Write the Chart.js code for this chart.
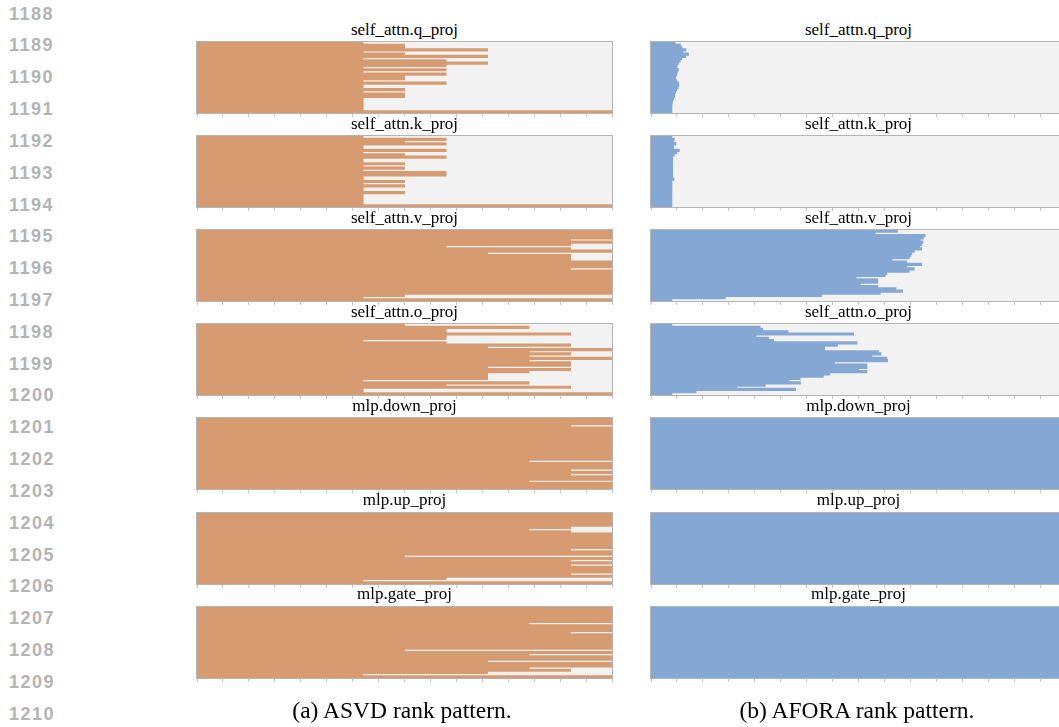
<!DOCTYPE html>
<html>
<head>
<meta charset="utf-8">
<script src="https://cdn.jsdelivr.net/npm/chart.js@4.4.1/dist/chart.umd.min.js"></script>
<style>
  html, body { margin: 0; padding: 0; background: #fff; overflow: hidden; }
  body { width: 1059px; height: 727px; position: relative; }
  .lineno { position: absolute; left: 9px; font: bold 18px "Liberation Sans", Arial, sans-serif; color: #b3b3b3; letter-spacing: 1.5px; line-height: 20px; }
  .ptitle { position: absolute; width: 415px; text-align: center; font: 17px "Liberation Serif", "Times New Roman", serif; line-height: 17px; color: #000; white-space: nowrap; }
  .caption { position: absolute; width: 400px; text-align: center; font: 23.5px "Liberation Serif", "Times New Roman", serif; line-height: 23px; color: #000; white-space: nowrap; }
  canvas { position: absolute; }
</style>
</head>
<body>
<script>
// layers 0..31, top to bottom
const layers = ["0","1","2","3","4","5","6","7","8","9","10","11","12","13","14","15",
                "16","17","18","19","20","21","22","23","24","25","26","27","28","29","30","31"];
const modules = ["self_attn.q_proj", "self_attn.k_proj", "self_attn.v_proj", "self_attn.o_proj",
                 "mlp.down_proj", "mlp.up_proj", "mlp.gate_proj"];
const xTicks = [0, 0.0625, 0.125, 0.1875, 0.25, 0.3125, 0.375, 0.4375, 0.5,
                0.5625, 0.625, 0.6875, 0.75, 0.8125, 0.875, 0.9375, 1];
const lineNumbers = ["1188","1189","1190","1191","1192","1193","1194","1195","1196","1197","1198",
                     "1199","1200","1201","1202","1203","1204","1205","1206","1207","1208","1209","1210"];
const captions = ["(a) ASVD rank pattern.", "(b) AFORA rank pattern."];

// ASVD kept-rank ratio per layer
const asvdQ = [0.4,0.5,0.5,0.7,0.4,0.5,0.7,0.4,0.6,0.7,0.6,0.4,0.6,0.4,0.6,0.5,
               0.5,0.4,0.6,0.4,0.4,0.5,0.4,0.5,0.5,0.4,0.4,0.4,0.4,0.4,0.4,1.0];
const asvdK = [0.4,0.6,0.5,0.6,0.4,0.4,0.6,0.4,0.5,0.6,0.4,0.4,0.5,0.4,0.5,0.4,
               0.6,0.6,0.4,0.4,0.5,0.4,0.5,0.4,0.4,0.5,0.4,0.4,0.4,0.4,0.4,1.0];
const asvdV = [1,1,1,1,0.9,1,0.9,0.6,0.9,1,0.7,0.9,0.9,0.9,1,1,
               1,0.9,1,1,1,1,1,1,1,1,1,1,1,0.5,0.4,1];
const asvdO = [0.5,0.8,0.6,0.6,0.9,0.6,0.6,0.4,0.6,0.9,0.7,1.0,0.8,0.9,0.8,1.0,
               0.8,0.9,0.9,0.7,0.9,0.8,0.7,0.7,0.7,0.4,0.8,0.6,0.9,0.4,0.4,1.0];
const asvdDown = [1,1,1,0.9,1,1,1,1,1,1,1,1,1,1,1,1,
                  1,1,1,0.8,1,1,1,0.9,1,0.9,1,1,0.8,1,1,1];
const asvdUp = [1,1,1,1,1,1,0.9,0.8,0.9,1,1,1,1,1,1,1,
                0.9,1,1,0.5,1,0.9,1,0.9,1,1,1,0.9,1,0.6,0.4,1];
const asvdGate = [1,1,1,1,1,1,1,0.8,1,1,1,0.9,1,1,1,1,
                  1,1,1,0.5,1,0.8,1,1,0.7,1,1,0.8,0.9,0.7,0.4,1];

// AFORA kept-rank ratio per layer
const aforaQ = [0.058,0.071,0.074,0.084,0.076,0.090,0.083,0.074,0.070,0.066,0.063,0.062,0.066,0.063,0.062,0.060,
                0.059,0.062,0.066,0.067,0.065,0.062,0.059,0.057,0.057,0.054,0.052,0.051,0.050,0.050,0.050,0.050];
const aforaK = [0.050,0.056,0.054,0.060,0.054,0.054,0.068,0.062,0.056,0.052,0.052,0.052,0.052,0.052,0.052,0.052,
                0.052,0.052,0.052,0.055,0.050,0.050,0.050,0.050,0.050,0.050,0.050,0.050,0.050,0.050,0.050,0.050];
const aforaV = [0.594,0.540,0.660,0.656,0.648,0.655,0.652,0.648,0.652,0.634,0.628,0.626,0.622,0.580,0.616,0.652,
                0.616,0.634,0.622,0.568,0.564,0.494,0.546,0.546,0.504,0.546,0.590,0.606,0.552,0.411,0.179,0.050];
const aforaO = [0.050,0.263,0.269,0.330,0.488,0.253,0.283,0.295,0.496,0.449,0.418,0.418,0.548,0.554,0.532,0.568,
                0.570,0.442,0.520,0.520,0.500,0.520,0.431,0.415,0.359,0.333,0.360,0.275,0.206,0.348,0.108,0.050];
const aforaDown = [1,1,1,1,1,1,1,1,1,1,1,1,1,1,1,1,1,1,1,1,1,1,1,1,1,1,1,1,1,1,1,1];
const aforaUp   = [1,1,1,1,1,1,1,1,1,1,1,1,1,1,1,1,1,1,1,1,1,1,1,1,1,1,1,1,1,1,1,1];
const aforaGate = [1,1,1,1,1,1,1,1,1,1,1,1,1,1,1,1,1,1,1,1,1,1,1,1,1,1,1,1,1,1,1,1];

const asvdSeries = [asvdQ, asvdK, asvdV, asvdO, asvdDown, asvdUp, asvdGate];
const aforaSeries = [aforaQ, aforaK, aforaV, aforaO, aforaDown, aforaUp, aforaGate];

const ORANGE = "#d69b71";
const BLUE = "#84a7d4";
const PLOT_W = 415, PLOT_H = 71;
const columns = [
  { left: 197, series: asvdSeries, color: ORANGE, captionX: 402, caption: captions[0] },
  { left: 651, series: aforaSeries, color: BLUE, captionX: 857, caption: captions[1] }
];
const plotTop = i => 42 + 94.1 * i;

// grey plot background under the bars, thin frame on top
const panelFrame = {
  id: "panelFrame",
  beforeDatasetsDraw(chart) {
    const { ctx, chartArea: a } = chart;
    ctx.save();
    ctx.fillStyle = "#f2f2f2";
    ctx.fillRect(a.left, a.top, a.width, a.height);
    ctx.restore();
  },
  afterDatasetsDraw(chart) {
    const { ctx, chartArea: a } = chart;
    ctx.save();
    ctx.strokeStyle = "#b4b4b4";
    ctx.lineWidth = 1;
    ctx.strokeRect(a.left - 0.5, a.top - 0.5, a.width + 1, a.height + 1);
    ctx.restore();
  }
};

function addText(cls, text, left, top) {
  const d = document.createElement("div");
  d.className = cls;
  d.textContent = text;
  d.style.left = left + "px";
  d.style.top = top + "px";
  document.body.appendChild(d);
  return d;
}

lineNumbers.forEach((n, i) => addText("lineno", n, 9, 3.6 + 31.82 * i));

columns.forEach(col => {
  col.series.forEach((values, i) => {
    const top = plotTop(i);
    addText("ptitle", modules[i], col.left, top - 21.2);

    const canvas = document.createElement("canvas");
    canvas.width = PLOT_W + 2;
    canvas.height = PLOT_H + 5;
    canvas.style.left = (col.left - 1) + "px";
    canvas.style.top = (top - 1) + "px";
    document.body.appendChild(canvas);

    new Chart(canvas, {
      type: "bar",
      data: {
        labels: layers,
        datasets: [{
          data: values,
          backgroundColor: col.color,
          borderWidth: 0,
          inflateAmount: 0.5,
          categoryPercentage: 1,
          barPercentage: 1
        }]
      },
      options: {
        indexAxis: "y",
        responsive: false,
        animation: false,
        devicePixelRatio: 1,
        layout: { padding: { left: 1, right: 1, top: 1, bottom: 0 } },
        plugins: { legend: { display: false }, tooltip: { enabled: false }, title: { display: false } },
        scales: {
          x: {
            min: 0,
            max: 1,
            afterBuildTicks: scale => { scale.ticks = xTicks.map(v => ({ value: v })); },
            ticks: { display: false },
            grid: { drawOnChartArea: false, drawTicks: true, tickLength: 4, color: "#c4c4c4" },
            border: { color: "#b4b4b4" }
          },
          y: { display: false }
        }
      },
      plugins: [panelFrame]
    });
  });
  addText("caption", col.caption, col.captionX - 200, 698.7);
});
</script>
</body>
</html>
